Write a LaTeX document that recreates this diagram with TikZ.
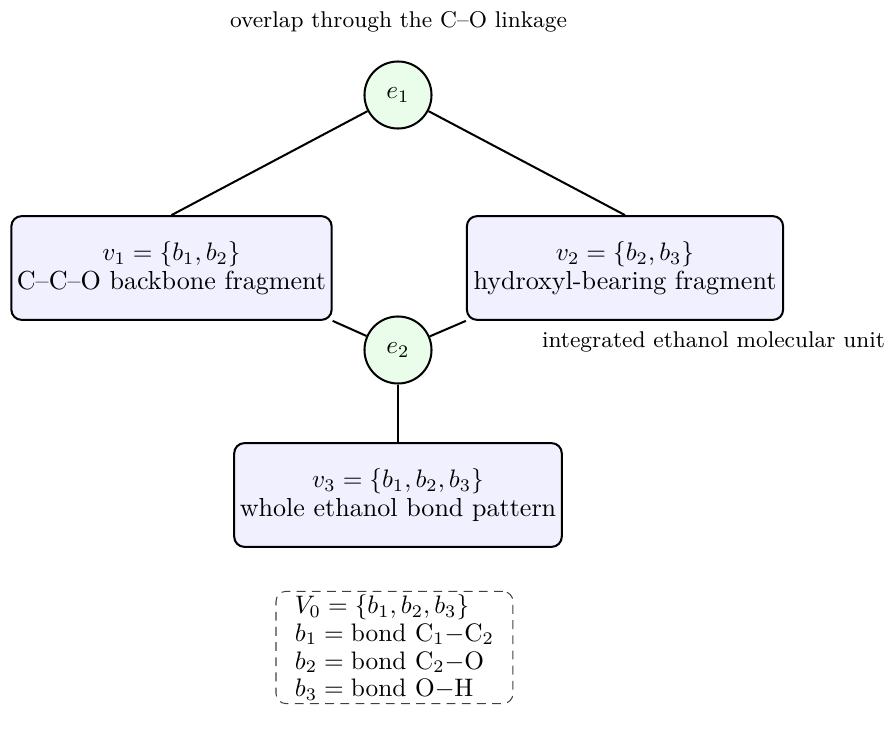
\documentclass[tikz,border=0pt]{standalone}
\usetikzlibrary{positioning}
\begin{document}
\begin{tikzpicture}[x=0.3953pt,y=-0.3953pt,
  vbox/.style={draw=black, thick, rounded corners=4pt, fill=blue!6,
    minimum width=125pt, minimum height=41pt, align=center, inner xsep=2.2pt, inner ysep=3.33pt,
    font=\fontsize{10.3}{11.3}\selectfont},
  enode/.style={circle, draw=black, thick, fill={rgb,255:red,234;green,252;blue,234},
    minimum size=26.5pt, inner sep=0pt, font=\fontsize{10.3}{12}\selectfont},
  lbl/.style={font=\small, anchor=base},
  legendbox/.style={draw=black!75, dash pattern=on 3.5pt off 2.5pt, rounded corners=4pt, align=left,
    inner xsep=7.5pt, inner ysep=1.2pt, font=\fontsize{10.3}{11}\selectfont},
  conn/.style={thick}
]
\useasboundingbox (0,0) rectangle (892,731);
\node[lbl] (title) at (398.5,28) {overlap through the C--O linkage};
\node[enode] (e1) at (398,95) {$e_1$};
\node[vbox] (v1) at (171.5,268) {$v_1=\{b_1,b_2\}$\\C--C--O backbone fragment};
\node[vbox] (v2) at (625,268) {$v_2=\{b_2,b_3\}$\\hydroxyl-bearing fragment};
\node[enode] (e2) at (398,350) {$e_2$};
\node[lbl] (unit) at (713.5,348) {integrated ethanol molecular unit};
\node[vbox] (v3) at (398,495) {$v_3=\{b_1,b_2,b_3\}$\\whole ethanol bond pattern};
\node[legendbox] (legend) at (394.5,647.5) {$V_0=\{b_1,b_2,b_3\}$\\
$b_1=\mathrm{bond}\ \mathrm{C}_1{-}\mathrm{C}_2$\\
$b_2=\mathrm{bond}\ \mathrm{C}_2{-}\mathrm{O}$\\
$b_3=\mathrm{bond}\ \mathrm{O}{-}\mathrm{H}$};
\draw[conn] (e1) -- (v1.north);
\draw[conn] (e1) -- (v2.north);
\draw[conn] (e2) -- (v1.south east);
\draw[conn] (e2) -- (v2.south west);
\draw[conn] (e2) -- (v3.north);
\end{tikzpicture}
\end{document}
